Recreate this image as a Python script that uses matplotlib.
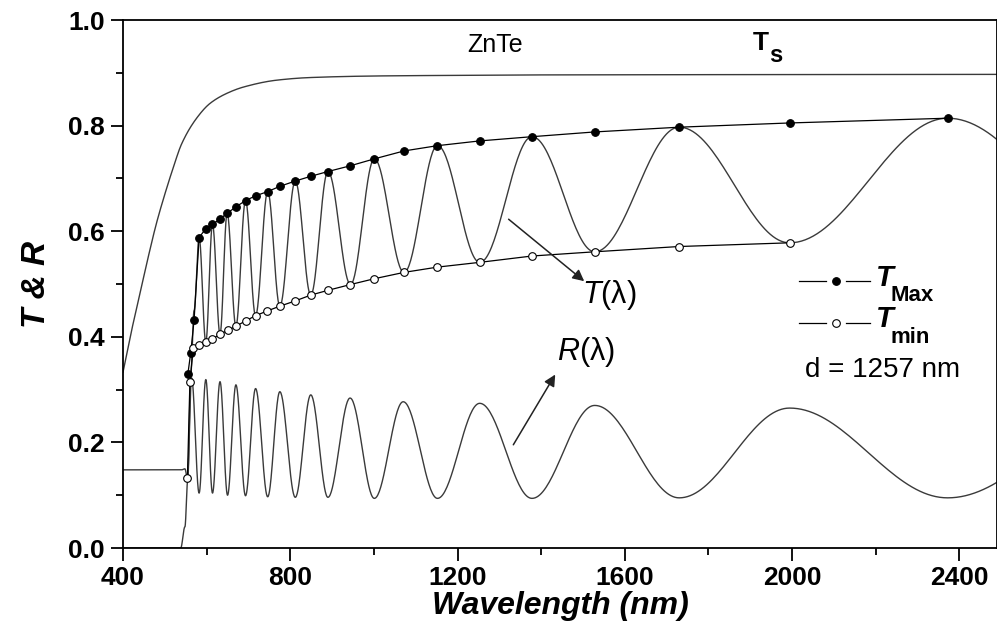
import numpy as np
import matplotlib
matplotlib.use("Agg")
import matplotlib.pyplot as plt

plt.rcParams['font.family'] = ['Liberation Sans', 'DejaVu Sans']
plt.rcParams['mathtext.fontset'] = 'custom'
plt.rcParams['mathtext.rm'] = 'Liberation Sans'
plt.rcParams['mathtext.it'] = 'Liberation Sans:italic'
plt.rcParams['mathtext.bf'] = 'Liberation Sans:bold'

# substrate transmission Ts
ts_wl = [400, 420, 440, 460, 480, 500, 520, 540, 576, 608, 648, 688, 767, 847, 1006, 1165, 1400, 2490]
ts_val = [0.333, 0.41, 0.48, 0.55, 0.615, 0.67, 0.72, 0.765, 0.814, 0.842, 0.861, 0.873, 0.886, 0.891, 0.894, 0.895, 0.896, 0.897]

# film transmission: absorption edge, then turning points
t_wl = [400, 538, 548, 555, 562, 570, 582, 598, 614, 632, 649, 670, 693, 717, 746, 775, 812, 849,
        890, 944, 1001, 1072, 1152, 1253, 1378, 1528, 1730, 1994, 2372, 2800]
t_val = [0.0, 0.0, 0.04, 0.13, 0.33, 0.45, 0.588, 0.390, 0.613, 0.405, 0.634, 0.420, 0.658, 0.440,
         0.675, 0.458, 0.695, 0.479, 0.713, 0.499, 0.737, 0.522, 0.762, 0.541, 0.779, 0.561,
         0.797, 0.578, 0.814, 0.585]

# reflectance turning points
r_wl = [400, 540, 548, 554, 564, 582, 598, 614, 632, 650, 670, 693, 717, 746, 775, 812, 849, 890,
        943, 1001, 1070, 1152, 1253, 1378, 1528, 1730, 1994, 2372, 2800]
r_val = [0.148, 0.148, 0.15, 0.132, 0.322, 0.104, 0.319, 0.104, 0.315, 0.100, 0.309, 0.099, 0.302,
         0.097, 0.296, 0.096, 0.290, 0.096, 0.284, 0.094, 0.277, 0.094, 0.274, 0.094, 0.270,
         0.095, 0.265, 0.095, 0.262]

# envelopes
tmax_wl = [555, 562, 570, 582, 598, 614, 632, 649, 670, 693, 717, 746, 775, 812, 849, 890, 944,
           1001, 1072, 1152, 1253, 1378, 1528, 1730, 1994, 2372]
tmax_val = [0.329, 0.370, 0.432, 0.588, 0.605, 0.613, 0.623, 0.634, 0.646, 0.658, 0.667, 0.675,
            0.685, 0.695, 0.704, 0.713, 0.724, 0.737, 0.752, 0.762, 0.771, 0.779, 0.788, 0.797,
            0.805, 0.814]
tmin_wl = [554, 560, 568, 582, 598, 614, 632, 650, 670, 693, 717, 745, 775, 812, 849, 890, 944,
           1001, 1072, 1152, 1253, 1378, 1528, 1730, 1994]
tmin_val = [0.132, 0.315, 0.378, 0.385, 0.390, 0.396, 0.405, 0.412, 0.420, 0.430, 0.440, 0.449,
            0.458, 0.468, 0.479, 0.488, 0.499, 0.510, 0.522, 0.532, 0.541, 0.553, 0.561, 0.571,
            0.578]


def through_extrema(xs, ys, n=40):
    # half-cosine segments between successive turning points
    out_x, out_y = [], []
    for i in range(len(xs) - 1):
        s = np.linspace(0, 1, n, endpoint=False)
        w = (1 - np.cos(np.pi * s)) / 2
        out_x.append(xs[i] + (xs[i + 1] - xs[i]) * s)
        out_y.append(ys[i] + (ys[i + 1] - ys[i]) * w)
    out_x.append([xs[-1]])
    out_y.append([ys[-1]])
    return np.concatenate(out_x), np.concatenate(out_y)


def pchip(xs, ys, n=2000):
    xs = np.asarray(xs, float)
    ys = np.asarray(ys, float)
    h = np.diff(xs)
    d = np.diff(ys) / h
    m = np.zeros_like(ys)
    for k in range(1, len(xs) - 1):
        if d[k - 1] * d[k] > 0:
            w1 = 2 * h[k] + h[k - 1]
            w2 = h[k] + 2 * h[k - 1]
            m[k] = (w1 + w2) / (w1 / d[k - 1] + w2 / d[k])
    m[0] = d[0]
    m[-1] = d[-1]
    xx = np.linspace(xs[0], xs[-1], n)
    idx = np.clip(np.searchsorted(xs, xx) - 1, 0, len(xs) - 2)
    t = (xx - xs[idx]) / h[idx]
    h00 = 2 * t**3 - 3 * t**2 + 1
    h10 = t**3 - 2 * t**2 + t
    h01 = -2 * t**3 + 3 * t**2
    h11 = t**3 - t**2
    yy = h00 * ys[idx] + h10 * h[idx] * m[idx] + h01 * ys[idx + 1] + h11 * h[idx] * m[idx + 1]
    return xx, yy


fig = plt.figure(figsize=(9.97, 6.28), dpi=100)
ax = fig.add_axes([123 / 997, 80 / 628, 874 / 997, 528 / 628])

curve_col = '#3a3a3a'
x, y = pchip(ts_wl, ts_val)
ax.plot(x, y, color=curve_col, lw=1.0)
x, y = through_extrema(t_wl, t_val)
ax.plot(x, y, color=curve_col, lw=1.0)
x, y = through_extrema(r_wl, r_val)
ax.plot(x, y, color=curve_col, lw=1.0)

ax.plot(tmax_wl, tmax_val, color='black', lw=0.9, marker='o', ms=5.5,
        mfc='black', mec='black', mew=0.8)
ax.plot(tmin_wl, tmin_val, color='black', lw=0.9, marker='o', ms=5.5,
        mfc='white', mec='black', mew=0.8)

ax.set_xlim(400, 2490)
ax.set_ylim(0, 1.0)
ax.set_xticks([400, 800, 1200, 1600, 2000, 2400])
ax.set_xticks(np.arange(600, 2490, 400), minor=True)
ax.set_yticks([0.0, 0.2, 0.4, 0.6, 0.8, 1.0])
ax.set_yticks([0.1, 0.3, 0.5, 0.7, 0.9], minor=True)
ax.set_yticklabels(['0.0', '0.2', '0.4', '0.6', '0.8', '1.0'])
ax.tick_params(which='major', direction='out', length=9, width=1.3, labelsize=19, pad=4)
ax.tick_params(which='minor', direction='out', length=5, width=1.3)
for lab in ax.get_xticklabels() + ax.get_yticklabels():
    lab.set_fontweight('bold')
for sp in ax.spines.values():
    sp.set_linewidth(1.3)

ax.set_xlabel('Wavelength (nm)', fontsize=23, fontweight='bold', fontstyle='italic', labelpad=1)
ax.set_ylabel('T & R', fontsize=24, fontweight='bold', fontstyle='italic', labelpad=12)

ax.text(1289, 0.953, 'ZnTe', fontsize=18, ha='center', va='center')
ax.text(1905, 0.957, 'T', fontsize=19, fontweight='bold', ha='left', va='center')
ax.text(1945, 0.933, 's', fontsize=17, fontweight='bold', ha='left', va='center')

ax.text(1497, 0.479, r'$\mathit{T}$(λ)', fontsize=22, ha='left', va='center')
ax.text(1437, 0.371, r'$\mathit{R}$(λ)', fontsize=22, ha='left', va='center')
ax.annotate('', xy=(1508, 0.502), xytext=(1317, 0.626),
            arrowprops=dict(arrowstyle='-|>', color='#222222', lw=1.1, mutation_scale=17))
ax.annotate('', xy=(1437, 0.333), xytext=(1330, 0.191),
            arrowprops=dict(arrowstyle='-|>', color='#222222', lw=1.1, mutation_scale=17))

# legend drawn by hand
for yy, face in ((0.506, 'black'), (0.427, 'white')):
    ax.plot([2016, 2081], [yy, yy], color='black', lw=0.9)
    ax.plot([2128, 2186], [yy, yy], color='black', lw=0.9)
    ax.plot([2105], [yy], marker='o', ms=5.5, mfc=face, mec='black', mew=0.8, ls='none')
ax.text(2200, 0.512, 'T', fontsize=21, fontweight='bold', fontstyle='italic', ha='left', va='center')
ax.text(2236, 0.478, 'Max', fontsize=16, fontweight='bold', ha='left', va='center')
ax.text(2200, 0.433, 'T', fontsize=21, fontweight='bold', fontstyle='italic', ha='left', va='center')
ax.text(2236, 0.398, 'min', fontsize=16, fontweight='bold', ha='left', va='center')
ax.text(2030, 0.337, 'd = 1257 nm', fontsize=20, ha='left', va='center')

fig.savefig('out.png', dpi=100)
